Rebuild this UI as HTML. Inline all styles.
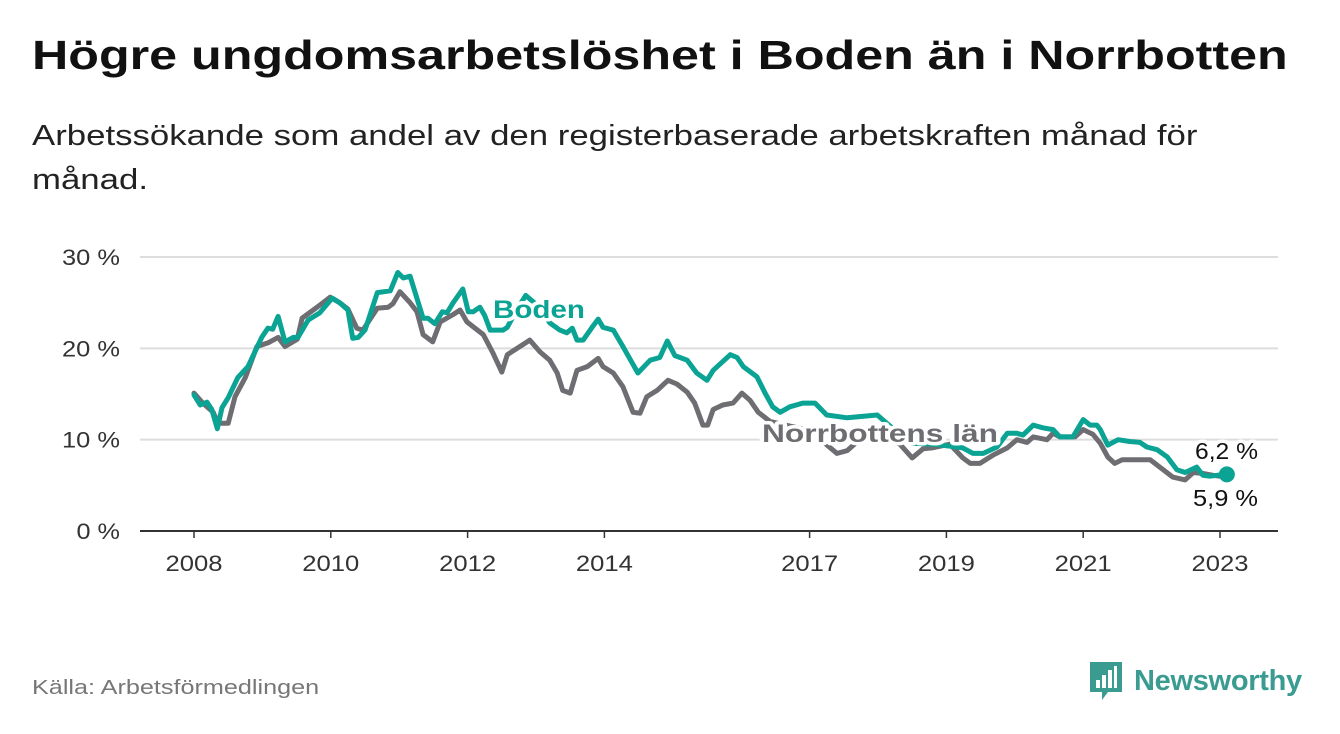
<!DOCTYPE html>
<html><head><meta charset="utf-8"><style>
body{margin:0;width:1340px;height:734px;background:#fff;font-family:"Liberation Sans",sans-serif;overflow:hidden;position:relative}
#title{position:absolute;left:32px;top:32px;font-size:41px;font-weight:bold;color:#111;white-space:nowrap;transform:scaleX(1.225);transform-origin:0 0}
#sub{position:absolute;left:32px;top:114px;font-size:28.5px;line-height:44px;color:#222;white-space:nowrap;transform:scaleX(1.22);transform-origin:0 0}
#src{position:absolute;left:32px;top:677px;font-size:20px;color:#777;white-space:nowrap;transform:scaleX(1.26);transform-origin:0 0}
#logo{position:absolute;left:1088px;top:660px;display:flex;align-items:center}
#logo span{font-size:29px;color:#3a9b91;margin-left:10px;font-weight:bold;letter-spacing:-0.3px}
svg text{font-family:"Liberation Sans",sans-serif}
</style></head><body>
<div id="title">Högre ungdomsarbetslöshet i Boden än i Norrbotten</div>
<div id="sub">Arbetssökande som andel av den registerbaserade arbetskraften månad för<br>månad.</div>
<svg id="chart" width="1340" height="734" style="position:absolute;left:0;top:0"></svg>
<div id="src">Källa: Arbetsförmedlingen</div>
<div id="logo">
<svg width="36" height="42"><path d="M2 2h32v30H20l-6 8v-8H2z" fill="#3a9b91"/><rect x="8" y="20" width="4" height="8" fill="#fff"/><rect x="14" y="15" width="4" height="13" fill="#fff"/><rect x="20" y="10" width="4" height="18" fill="#fff"/><rect x="26" y="6" width="3" height="22" fill="#fff"/></svg>
<span>Newsworthy</span></div>
<script>
const yTicks=[0,10,20,30];
const yTickLabels=["0 %","10 %","20 %","30 %"];
const xTicks=[2008,2010,2012,2014,2017,2019,2021,2023];
const bodenT=[0,0.09,0.19,0.26,0.34,0.41,0.50,0.64,0.79,0.99,1.08,1.15,1.23,1.33,1.45,1.52,1.67,1.84,2.02,2.13,2.25,2.32,2.40,2.50,2.68,2.87,2.98,3.06,3.16,3.35,3.42,3.52,3.63,3.70,3.79,3.93,4.01,4.08,4.18,4.25,4.33,4.52,4.58,4.70,4.85,5.05,5.20,5.35,5.45,5.53,5.60,5.69,5.82,5.91,5.98,6.13,6.27,6.49,6.67,6.81,6.92,7.03,7.21,7.35,7.50,7.59,7.84,7.94,8.03,8.23,8.35,8.46,8.57,8.71,8.90,9.08,9.25,9.55,9.99,10.25,10.50,10.80,11.05,11.24,11.39,11.54,11.74,11.89,12.03,12.12,12.27,12.41,12.56,12.66,12.85,13.00,13.10,13.20,13.25,13.36,13.51,13.68,13.83,13.93,14.08,14.23,14.37,14.49,14.66,14.75,14.85,14.96,15.10];
const bodenV=[14.9,13.8,14.1,13.3,11.2,13.5,14.6,16.8,18.0,21.2,22.2,22.1,23.5,20.7,21.2,21.2,23.1,23.9,25.5,25.0,24.2,21.1,21.2,22.0,26.1,26.3,28.3,27.7,27.9,23.3,23.3,22.7,24.0,23.9,25.0,26.5,24.0,24.0,24.5,23.6,22.0,22.0,22.3,24.0,25.8,24.5,22.8,22.0,21.7,22.2,20.9,20.9,22.3,23.2,22.3,22.0,20.2,17.3,18.7,19.0,20.8,19.2,18.7,17.3,16.5,17.6,19.3,19.0,18.0,16.9,15.1,13.6,13.0,13.6,14.0,14.0,12.7,12.4,12.7,11.0,9.6,9.5,9.3,9.1,8.5,8.5,9.2,10.7,10.7,10.5,11.6,11.3,11.1,10.3,10.3,12.2,11.6,11.6,11.1,9.4,10.0,9.8,9.7,9.2,8.9,8.1,6.7,6.4,7.0,6.1,6.0,6.1,6.2];
const norrT=[0,0.13,0.28,0.35,0.50,0.60,0.75,0.92,1.08,1.23,1.33,1.51,1.58,1.80,1.99,2.13,2.25,2.38,2.47,2.68,2.84,2.91,3.01,3.16,3.26,3.35,3.49,3.60,3.79,3.89,3.99,4.23,4.37,4.50,4.58,4.91,5.06,5.20,5.31,5.39,5.50,5.60,5.75,5.91,5.98,6.13,6.27,6.42,6.52,6.62,6.77,6.93,7.06,7.21,7.32,7.44,7.51,7.59,7.73,7.88,8.01,8.13,8.25,8.42,8.71,9.00,9.40,9.55,9.88,10.32,10.50,10.66,10.79,11.05,11.24,11.35,11.49,11.68,11.89,12.03,12.18,12.27,12.47,12.56,12.66,12.88,13.00,13.14,13.25,13.36,13.46,13.57,13.98,14.12,14.31,14.49,14.61,14.75,14.90,15.10];
const norrV=[15.1,14.0,13.0,11.8,11.8,14.7,16.8,20.2,20.6,21.2,20.2,21.0,23.3,24.5,25.6,25.0,24.3,22.2,22.0,24.4,24.5,24.9,26.2,25.0,24.0,21.5,20.7,22.9,23.7,24.2,22.9,21.5,19.5,17.4,19.3,20.9,19.6,18.7,17.3,15.4,15.1,17.6,18.0,18.9,18.0,17.3,15.8,13.0,12.9,14.7,15.4,16.5,16.1,15.2,14.0,11.6,11.6,13.3,13.8,14.0,15.1,14.3,13.0,12.0,11.5,11.0,8.5,8.8,11.0,9.5,8.0,9.0,9.1,9.5,8.0,7.4,7.4,8.3,9.1,10.0,9.7,10.3,10.0,10.7,10.3,10.3,11.1,10.6,9.6,8.1,7.4,7.8,7.8,7.0,5.9,5.6,6.4,6.3,6.1,5.9];
const NS="http://www.w3.org/2000/svg";
const svg=document.getElementById('chart');
const X=t=>194+t*68.4;
const XY=y=>194+(y-2008)*68.4;
const Y=v=>531-v*9.133;
function mk(tag,attrs,txt){const e=document.createElementNS(NS,tag);for(const k in attrs)e.setAttribute(k,attrs[k]);if(txt!==undefined)e.textContent=txt;svg.appendChild(e);return e;}
yTicks.forEach((v,i)=>{
 const g=mk('line',{x1:140,x2:1278,y1:Y(v),y2:Y(v),stroke:v===0?'#333':'#ddd','stroke-width':2});
 
 
 const t=mk('text',{x:120,y:Y(v)+8,'text-anchor':'end','font-size':22,fill:'#333',textLength:yTickLabels[i].length*14.5,lengthAdjust:'spacingAndGlyphs'},yTickLabels[i]);
 
 
});
xTicks.forEach(y=>{
 const l=mk('line',{x1:XY(y),x2:XY(y),y1:531,y2:538,stroke:'#333','stroke-width':1.5});
 
 
 const t=mk('text',{x:XY(y),y:571,'text-anchor':'middle','font-size':22,fill:'#333',textLength:57,lengthAdjust:'spacingAndGlyphs'},String(y));
 
 
});
function line(T,V,col,name){
 const d=T.map((t,i)=>(i?'L':'M')+X(t).toFixed(1)+' '+Y(V[i]).toFixed(1)).join(' ');
 const p=mk('path',{d:d,fill:'none',stroke:col,'stroke-width':5,'stroke-linejoin':'round','stroke-linecap':'round'});
 
 
}
line(norrT,norrV,'#6e6d72','norrbotten-line');
line(bodenT,bodenV,'#0aa394','boden-line');
const dot=mk('circle',{cx:X(bodenT[bodenT.length-1]),cy:Y(bodenV[bodenV.length-1]),r:8,fill:'#0aa394'});


function lab(x,y,txt,col,bold,name,size,len){
 const t=mk('text',{x:x,y:y,'font-size':size,fill:col,'font-weight':bold?'bold':'normal',stroke:'#fff','stroke-width':7,'paint-order':'stroke','stroke-linejoin':'round',textLength:len,lengthAdjust:'spacingAndGlyphs'},txt);
 
 
}
lab(493,318,'Boden','#0aa394',true,'boden-label',25,92);
lab(762,442,'Norrbottens län','#6e6d72',true,'norrbotten-label',25,236);
lab(1195,459,'6,2 %','#111',false,'boden-end-value',23,63);
lab(1193,506,'5,9 %','#111',false,'norrbotten-end-value',23,65);
</script>
</body></html>
